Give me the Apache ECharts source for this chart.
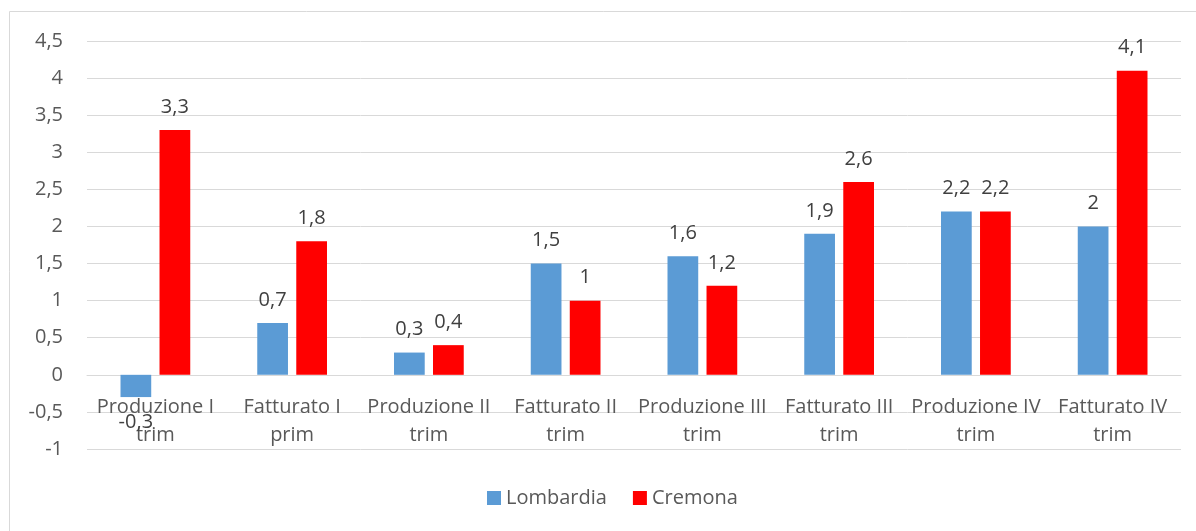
<!DOCTYPE html>
<html><head><meta charset="utf-8">
<script src="https://cdn.jsdelivr.net/npm/echarts@6/dist/echarts.min.js"></script>
<style>html,body{margin:0;padding:0;background:#fff}#c{width:1196px;height:531px}</style>
</head><body><div id="c"></div>
<script>
const categories = ["Produzione I\ntrim","Fatturato I\nprim","Produzione II\ntrim","Fatturato II\ntrim","Produzione III\ntrim","Fatturato III\ntrim","Produzione IV\ntrim","Fatturato IV\ntrim"];
const lombardia = [-0.3, 0.7, 0.3, 1.5, 1.6, 1.9, 2.2, 2.0];
const cremona = [3.3, 1.8, 0.4, 1.0, 1.2, 2.6, 2.2, 4.1];
const seriesNames = ["Lombardia", "Cremona"];
const FONT = '"Open Sans", sans-serif';
const FS = 20;
const fmt = v => String(v).replace('.', ',');
function toData(arr){
  return arr.map(v => v < 0 ? {value: v, label: {position: 'bottom', distance: 15}} : v);
}
const labelCfg = {show: true, position: 'top', distance: 13, color: '#404040', fontSize: FS, fontFamily: FONT,
  formatter: p => fmt(p.value)};
const chart = echarts.init(document.getElementById('c'));
chart.setOption({
  animation: false,
  graphic: [{type: 'rect', shape: {x: 9.5, y: 11.5, width: 1300, height: 600}, style: {fill: 'none', stroke: '#D9D9D9', lineWidth: 1}, z: -1}],
  grid: {left: 87, right: 15, top: 41, bottom: 82, containLabel: false},
  legend: {bottom: 18, left: 482, itemWidth: 14, itemHeight: 14, itemGap: 26,
    textStyle: {fontSize: FS, color: '#595959', fontFamily: FONT},
    data: [{name: seriesNames[0], icon: 'rect'}, {name: seriesNames[1], icon: 'rect'}]},
  xAxis: {type: 'category', data: categories, offset: -74,
    axisLine: {onZero: false, lineStyle: {color: '#D9D9D9'}}, axisTick: {show: false},
    axisLabel: {interval: 0, color: '#595959', fontSize: FS, fontFamily: FONT, lineHeight: 28, margin: 18}},
  yAxis: {type: 'value', min: -1, max: 4.5, interval: 0.5,
    axisLine: {show: false}, axisTick: {show: false},
    splitLine: {lineStyle: {color: '#D9D9D9', width: 1}},
    axisLabel: {color: '#595959', fontSize: FS, fontFamily: FONT, margin: 24, formatter: v => fmt(v)}},
  series: [
    {name: seriesNames[0], type: 'bar', data: toData(lombardia), itemStyle: {color: '#5B9BD5'},
      barGap: '27%', barCategoryGap: '49%', label: labelCfg, z: 5},
    {name: seriesNames[1], type: 'bar', data: toData(cremona), itemStyle: {color: '#FF0000'},
      barGap: '27%', barCategoryGap: '49%', label: labelCfg, z: 5}
  ]
});
</script></body></html>
